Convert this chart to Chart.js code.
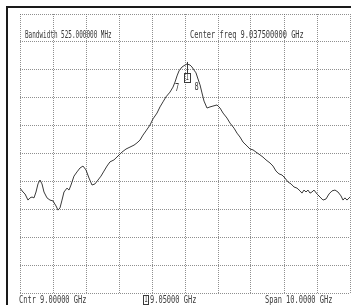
<!DOCTYPE html>
<html>
<head>
<meta charset="utf-8">
<script src="https://cdn.jsdelivr.net/npm/chart.js@4.4.1/dist/chart.umd.min.js"></script>
<style>
  html, body { margin: 0; padding: 0; background: #fff; }
  canvas { display: block; }
</style>
</head>
<body>
<canvas id="spectrum" width="351" height="305"></canvas>
<script>
// frequency (GHz) and level (dB), 1 GHz/div, 10 dB/div
const freqs = [4.000, 4.091, 4.152, 4.242, 4.303, 4.364, 4.424, 4.485, 4.545, 4.606, 4.667, 4.727, 4.818, 4.909, 5.000, 5.091, 5.152, 5.212, 5.273, 5.333,
    5.424, 5.485, 5.545, 5.636, 5.727, 5.818, 5.909, 6.000, 6.091, 6.182, 6.273, 6.364, 6.455, 6.545, 6.636, 6.727, 6.848, 6.970, 7.091, 7.212,
    7.333, 7.455, 7.545, 7.636, 7.727, 7.818, 7.939, 8.030, 8.152, 8.242, 8.333, 8.424, 8.545, 8.636, 8.697, 8.758, 8.818, 8.909, 9.000, 9.061,
    9.152, 9.212, 9.273, 9.333, 9.394, 9.455, 9.515, 9.576, 9.667, 9.758, 9.848, 9.970, 10.061, 10.152, 10.273, 10.364, 10.485, 10.576, 10.667, 10.758,
    10.879, 10.970, 11.061, 11.152, 11.273, 11.364, 11.455, 11.576, 11.667, 11.758, 11.848, 11.939, 12.030, 12.121, 12.212, 12.303, 12.394, 12.485, 12.545, 12.606,
    12.667, 12.727, 12.788, 12.848, 12.909, 13.000, 13.091, 13.182, 13.273, 13.364, 13.455, 13.545, 13.636, 13.727, 13.788, 13.848, 13.909, 14.000];
const levels = [-62.4, -63.8, -64.5, -66.7, -65.9, -65.6, -65.9, -63.8, -60.9, -59.5, -60.9, -63.8, -65.9, -66.7, -67.0, -68.8, -70.3, -69.5, -66.7, -63.8,
    -62.4, -63.1, -61.3, -58.1, -56.6, -55.2, -54.5, -55.9, -58.8, -61.3, -60.9, -59.5, -58.1, -56.3, -54.5, -53.0, -52.3, -50.9, -49.5, -48.4,
    -47.7, -47.0, -46.2, -45.2, -43.4, -41.9, -39.8, -37.6, -35.5, -33.3, -31.5, -29.7, -28.0, -26.2, -24.4, -22.2, -20.4, -19.0, -18.3, -17.9,
    -18.3, -19.0, -20.1, -21.1, -23.3, -25.4, -28.3, -31.2, -33.7, -33.3, -33.0, -32.6, -33.7, -35.5, -37.3, -39.1, -40.9, -42.7, -44.1, -45.9,
    -47.3, -48.4, -48.7, -49.5, -50.5, -51.3, -52.3, -53.4, -54.5, -56.3, -57.3, -57.7, -58.8, -60.2, -60.9, -62.0, -62.4, -63.4, -64.2, -63.1,
    -63.8, -63.1, -64.2, -63.8, -63.1, -64.5, -65.6, -66.7, -66.3, -64.5, -63.4, -63.1, -63.8, -65.2, -66.7, -65.9, -66.7, -65.6];

// markers: label, frequency, level where the label sits
const markerLabels = ['1', '7', '8'];
const markerFreqs = [9.05, 8.76, 9.35];
const markerLevels = [-23.0, -26.5, -26.2];

const headerTexts = ['Bandwidth 525.000000 MHz', 'Center freq 9.037500000 GHz'];
const footerTexts = ['Cntr 9.00000 GHz', '9.05000 GHz', 'Span 10.0000 GHz'];

const ink = '#3a3a3a';

function plotText(ctx, text, x, y, squeeze = 0.7) {
    // narrow plotter-style lettering
    ctx.save();
    ctx.translate(x, y);
    ctx.scale(squeeze, 1);
    ctx.fillText(text, 0, 0);
    ctx.restore();
}

const framePlugin = {
    id: 'frame',
    afterDraw(chart) {
        const ctx = chart.ctx;
        const xs = chart.scales.x;
        const ys = chart.scales.y;

        ctx.save();
        ctx.strokeStyle = '#1a1a1a';
        ctx.lineWidth = 2;
        ctx.beginPath();
        ctx.moveTo(7, 305);
        ctx.lineTo(7, 7);
        ctx.lineTo(351, 7);
        ctx.stroke();

        ctx.fillStyle = ink;
        ctx.font = '10px "DejaVu Sans Mono", monospace';
        ctx.textBaseline = 'middle';
        plotText(ctx, headerTexts[0], 25, 35, 0.6);
        plotText(ctx, headerTexts[1], 190, 35);
        plotText(ctx, footerTexts[0], 19, 300);
        plotText(ctx, footerTexts[1], 150, 300);
        plotText(ctx, footerTexts[2], 265, 300);

        // marker symbol in the footer
        ctx.strokeStyle = ink;
        ctx.lineWidth = 1;
        ctx.strokeRect(143.5, 295.5, 5, 9);
        ctx.font = '8px "DejaVu Sans Mono", monospace';
        plotText(ctx, '1', 144.3, 300);

        // peak marker box and the two side markers
        const px = xs.getPixelForValue(markerFreqs[0]);
        const py = ys.getPixelForValue(markerLevels[0]);
        const peakY = ys.getPixelForValue(Math.max(...levels));
        ctx.beginPath();
        ctx.moveTo(Math.round(px) + 0.5, peakY - 2);
        ctx.lineTo(Math.round(px) + 0.5, py - 5);
        ctx.stroke();
        ctx.strokeRect(Math.round(px) - 2.5, Math.round(py) - 4.5, 6, 9);
        ctx.textAlign = 'left';
        plotText(ctx, markerLabels[0], Math.round(px) - 1.4, py);

        ctx.font = '10px "DejaVu Sans Mono", monospace';
        for (let i = 1; i < markerLabels.length; i++) {
            const mx = xs.getPixelForValue(markerFreqs[i]);
            const my = ys.getPixelForValue(markerLevels[i]);
            plotText(ctx, markerLabels[i], mx - 2, my);
        }
        ctx.restore();
    }
};

const ctx = document.getElementById('spectrum').getContext('2d');
const spectrumChart = new Chart(ctx, {
    type: 'line',
    data: {
        datasets: [{
            data: freqs.map((f, i) => ({ x: f, y: levels[i] })),
            borderColor: ink,
            borderWidth: 1,
            pointRadius: 0,
            tension: 0,
            fill: false
        }]
    },
    options: {
        responsive: false,
        animation: false,
        layout: { padding: { left: 20, top: 14, right: 1, bottom: 12 } },
        plugins: {
            legend: { display: false },
            tooltip: { enabled: false }
        },
        scales: {
            x: {
                type: 'linear',
                min: 4,
                max: 14,
                ticks: { display: false, stepSize: 1 },
                grid: { color: 'rgba(105,105,105,0.75)', drawTicks: false, lineWidth: 1 },
                border: { display: false, dash: [1, 1] }
            },
            y: {
                min: -100,
                max: 0,
                ticks: { display: false, stepSize: 10 },
                grid: { color: 'rgba(105,105,105,0.75)', drawTicks: false, lineWidth: 1 },
                border: { display: false, dash: [1, 1] }
            }
        }
    },
    plugins: [framePlugin]
});
</script>
</body>
</html>
